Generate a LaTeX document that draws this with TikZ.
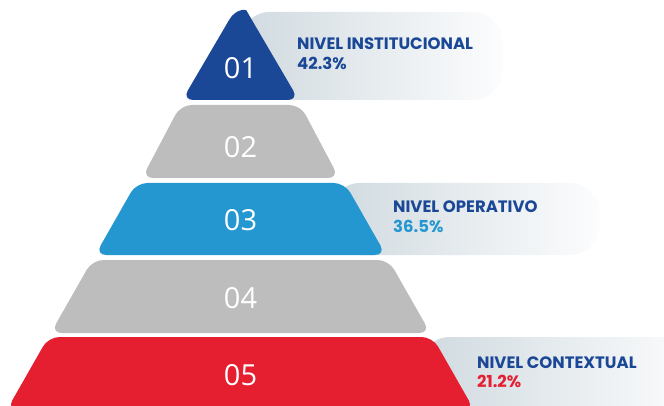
\documentclass[tikz,border=0pt]{standalone}
\usepackage{fontspec}
\newfontfamily\labfont{Poppins}
\newfontfamily\numfont{Open Sans}
\definecolor{dblue}{RGB}{27,72,150}
\definecolor{lblue}{RGB}{36,150,208}
\definecolor{pgray}{RGB}{189,189,189}
\definecolor{pred}{RGB}{229,30,48}
\definecolor{bandgray}{RGB}{208,218,224}
\tikzset{
  tier/.style={rounded corners=11pt},
  band/.style={rounded corners=30pt, left color=bandgray, middle color=white!68!bandgray, right color=white!94!bandgray},
  num/.style={text=white, font=\numfont\fontsize{29}{29}\selectfont, inner sep=0pt},
  lvl/.style={text=dblue, font=\labfont\bfseries\fontsize{16.5}{16.5}\selectfont, anchor=base west, inner sep=0pt},
  pct/.style={font=\labfont\bfseries\fontsize{16.5}{16.5}\selectfont, anchor=base west, inner sep=0pt}
}
\begin{document}
\begin{tikzpicture}[x=1pt,y=-1pt]
\useasboundingbox (0,0) rectangle (664,406);
\clip (0,0) rectangle (664,406);
% bands
\shade[band] (240,12) rectangle (503,100);
\shade[band] (330,183) rectangle (600,255);
\shade[band] (420,337) rectangle (700,412);
% tiers (apex at (240.5,0), slope 0.57)
\fill[dblue, tier] (229.1,20) -- (182.2,100) -- (298.8,100) -- (251.9,20) [sharp corners] .. controls (245.6,9) and (235.4,9) .. (229.1,20) -- cycle;
\fill[pgray, tier] (180.6,105) -- (300.4,105) -- (339.0,178) -- (142.0,178) -- cycle;
\fill[lblue, tier] (136.2,183) -- (344.8,183) -- (385.9,255) -- (95.2,255) -- cycle;
\fill[pgray, tier] (92.3,260) -- (388.7,260) -- (430.3,333) -- (50.7,333) -- cycle;
\fill[pred, tier] (48.4,337) -- (432.6,337) -- (474.2,410) -- (6.8,410) -- cycle;
% numbers
\node[num] (n1) at (240.5,68) {01};
\node[num] (n2) at (240.5,147) {02};
\node[num] (n3) at (240.5,220) {03};
\node[num] (n4) at (240.5,298) {04};
\node[num] (n5) at (240.5,375) {05};
% labels
\node[lvl] (l1) at (297,50) {NIVEL INSTITUCIONAL};
\node[pct, text=dblue] (p1) at (297,70) {42.3\%};
\node[lvl] (l3) at (393,213) {NIVEL OPERATIVO};
\node[pct, text=lblue] (p3) at (393,233) {36.5\%};
\node[lvl] (l5) at (477,368) {NIVEL CONTEXTUAL};
\node[pct, text=pred] (p5) at (477,387) {21.2\%};
\end{tikzpicture}
\end{document}
